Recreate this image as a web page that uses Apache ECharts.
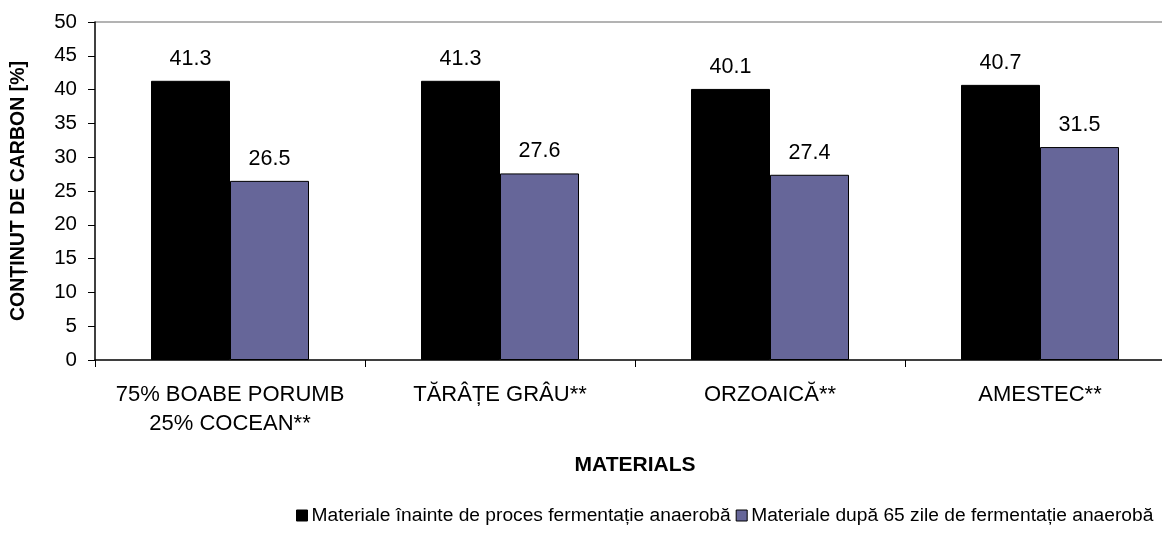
<!DOCTYPE html>
<html>
<head>
<meta charset="utf-8">
<title>Conținut de carbon</title>
<script src="https://cdn.jsdelivr.net/npm/echarts@6/dist/echarts.min.js"></script>
<style>
  html, body { margin: 0; padding: 0; background: #fff; }
  #chart { width: 1162px; height: 533px; }
</style>
</head>
<body>
<div id="chart"></div>
<script>
// Materials analysed
const categories = [
  '75% BOABE PORUMB\n25% COCEAN**',
  'TĂRÂȚE GRÂU**',
  'ORZOAICĂ**',
  'AMESTEC**'
];

// Carbon content [%] before and after anaerobic fermentation
const seriesNames = [
  'Materiale înainte de proces fermentație anaerobă',
  'Materiale după 65 zile de fermentație anaerobă'
];
const beforeValues = [41.3, 41.3, 40.1, 40.7];
const afterValues = [26.5, 27.6, 27.4, 31.5];

// Value axis range
const yMin = 0;
const yMax = 50;
const yStep = 5;

const FONT = '"Liberation Sans", Arial, Helvetica, sans-serif';

// only the top split line (at the maximum) is drawn, in grey
const splitColors = [];
for (let v = yMin; v <= yMax; v += yStep) {
  splitColors.push(v === yMax ? '#9a9a9a' : 'rgba(0,0,0,0)');
}

const chart = echarts.init(document.getElementById('chart'), null, { renderer: 'canvas' });

const barLabel = {
  show: true,
  position: 'top',
  distance: 11,
  color: '#000',
  fontFamily: FONT,
  fontSize: 21.5,
  formatter: p => p.value.toFixed(1)
};

chart.setOption({
  animation: false,
  backgroundColor: '#fff',
  textStyle: { fontFamily: FONT, color: '#000' },
  grid: {
    left: 95,
    right: -13,
    top: 22,
    bottom: 173,
    containLabel: false,
    outerBoundsMode: 'none'
  },
  legend: {
    left: 291,
    top: 501,
    width: 900,
    itemWidth: 11,
    itemHeight: 11,
    itemGap: 5,
    icon: 'rect',
    itemStyle: { borderColor: '#000', borderWidth: 1 },
    textStyle: { fontFamily: FONT, fontSize: 19.2, color: '#000', padding: [0, 0, 0, -1] },
    data: seriesNames
  },
  xAxis: {
    type: 'category',
    data: categories,
    name: 'MATERIALS',
    nameLocation: 'middle',
    nameGap: 95,
    nameTextStyle: { fontFamily: FONT, fontSize: 21, fontWeight: 'bold', color: '#000', verticalAlign: 'top' },
    axisLine: { show: true, lineStyle: { color: '#000', width: 1.5 } },
    axisTick: { show: true, inside: false, length: 7, alignWithLabel: false, lineStyle: { color: '#000' } },
    axisLabel: {
      margin: 20,
      color: '#000',
      fontFamily: FONT,
      fontSize: 22,
      lineHeight: 29,
      interval: 0
    },
    splitLine: { show: false }
  },
  yAxis: {
    type: 'value',
    min: yMin,
    max: yMax,
    interval: yStep,
    name: 'CONȚINUT DE CARBON [%]',
    nameLocation: 'middle',
    nameGap: 66,
    nameRotate: 90,
    nameTextStyle: { fontFamily: FONT, fontSize: 19.5, fontWeight: 'bold', color: '#000' },
    axisLine: { show: true, lineStyle: { color: '#000', width: 1.5 } },
    axisTick: { show: true, inside: false, length: 7, lineStyle: { color: '#000' } },
    axisLabel: { margin: 18, color: '#000', fontFamily: FONT, fontSize: 20.5 },
    splitLine: { show: true, lineStyle: { color: splitColors, width: 1.5 } }
  },
  series: [
    {
      name: seriesNames[0],
      type: 'bar',
      data: beforeValues,
      barWidth: 79,
      barGap: '0%',
      itemStyle: { color: '#000000', borderColor: '#000', borderWidth: 1 },
      label: barLabel
    },
    {
      name: seriesNames[1],
      type: 'bar',
      data: afterValues,
      barWidth: 79,
      barGap: '0%',
      itemStyle: { color: '#666699', borderColor: '#000', borderWidth: 1 },
      label: barLabel
    }
  ]
});
</script>
</body>
</html>
